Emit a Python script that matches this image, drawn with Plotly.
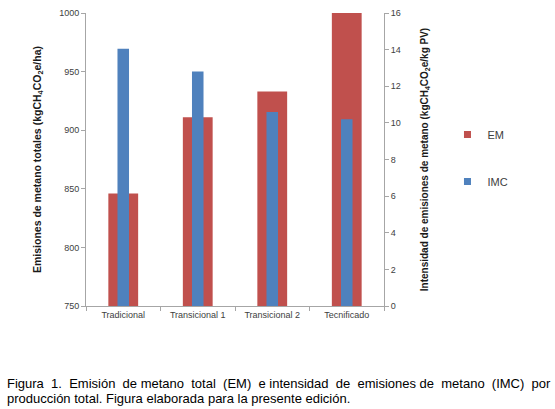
import plotly.graph_objects as go

categorias = ['Tradicional', 'Transicional 1', 'Transicional 2', 'Tecnificado']
em = [846, 911, 933, 1000]          # kgCH4CO2e/ha (eje izquierdo)
imc = [14.05, 12.8, 10.6, 10.2]     # kgCH4CO2e/kg PV (eje derecho)

rojo = '#C0504D'
azul = '#4F81BD'
gris = '#A6A6A6'
fuente = 'Liberation Sans, Arial, sans-serif'

fig = go.Figure()

# barras (sin leyenda propia)
fig.add_trace(go.Bar(
    x=categorias, y=em, name='EM',
    marker=dict(color=rojo, line_width=0),
    width=0.4, yaxis='y', showlegend=False,
))
fig.add_trace(go.Bar(
    x=categorias, y=imc, name='IMC',
    marker=dict(color=azul, line_width=0),
    width=0.155, yaxis='y2', showlegend=False,
))

# entradas de leyenda con cuadros pequeños
for nombre, color in [('EM', rojo), ('IMC', azul)]:
    fig.add_trace(go.Scatter(
        x=[None], y=[None], mode='markers', name=nombre,
        marker=dict(symbol='square', size=7, color=color),
        legendgroup=nombre,
    ))

fig.update_layout(
    width=555, height=409,
    barmode='overlay',
    paper_bgcolor='white', plot_bgcolor='white',
    margin=dict(l=86, r=171, t=13, b=103, autoexpand=False),
    font=dict(family=fuente, size=9, color='#404040'),
    xaxis=dict(
        type='category', range=[-0.5, 3.5], automargin=False,
        showline=True, linecolor=gris, linewidth=1,
        ticks='outside', tickson='boundaries', ticklen=4, tickcolor=gris,
        showgrid=False, tickfont=dict(size=9, color='#404040'),
    ),
    yaxis=dict(
        range=[750, 1000], dtick=50, automargin=False,
        showline=True, linecolor=gris, linewidth=1,
        ticks='outside', ticklen=4, tickcolor=gris,
        showgrid=False, zeroline=False,
        tickfont=dict(size=9, color='#404040'),
        title=dict(text='<b>Emisiones de metano totales (kgCH<sub>4</sub>CO<sub>2</sub>e/ha)</b>',
                   font=dict(size=10.5, color='#1a1a1a'), standoff=15),
    ),
    yaxis2=dict(
        range=[0, 16], dtick=2, overlaying='y', side='right', automargin=False,
        showline=True, linecolor=gris, linewidth=1,
        ticks='outside', ticklen=4, tickcolor=gris,
        showgrid=False, zeroline=False,
        tickfont=dict(size=9, color='#404040'),
        title=dict(text='<b>Intensidad de emisiones de metano (kgCH<sub>4</sub>CO<sub>2</sub>e/kg PV)</b>',
                   font=dict(size=10, color='#1a1a1a'), standoff=21),
    ),
    legend=dict(
        x=1.213, y=0.505, xanchor='left', yanchor='middle',
        font=dict(size=11, color='#404040'),
        traceorder='grouped', tracegroupgap=28,
        itemwidth=30, bgcolor='rgba(0,0,0,0)',
    ),
)

alto = 409 - 13 - 103
ancho = 555 - 86 - 171
sp = '&nbsp;'
linea1 = ('Figura' + sp + ' 1.' + sp + ' Emisión' + sp + ' de' + ' metano' + sp + ' total' + sp
          + ' (EM)' + sp + ' e' + ' intensidad' + sp + ' de' + sp + ' emisiones' + ' de' + sp
          + ' metano' + sp + ' (IMC)' + sp + ' por')
fig.add_annotation(
    xref='paper', yref='paper', x=-81 / ancho, y=-(383 - 306) / alto,
    xanchor='left', yanchor='middle', showarrow=False, align='left',
    text=linea1,
    font=dict(family=fuente, size=13, color='black'),
)
fig.add_annotation(
    xref='paper', yref='paper', x=-81 / ancho, y=-(398 - 306) / alto,
    xanchor='left', yanchor='middle', showarrow=False, align='left',
    text='producción total. Figura elaborada para la presente edición.',
    font=dict(family=fuente, size=13, color='black'),
)

# quitar el margen del body para que la figura ocupe la ventana
fig.write_html('out.html', config={'displayModeBar': False},
               post_script="document.body.style.margin='0';")
